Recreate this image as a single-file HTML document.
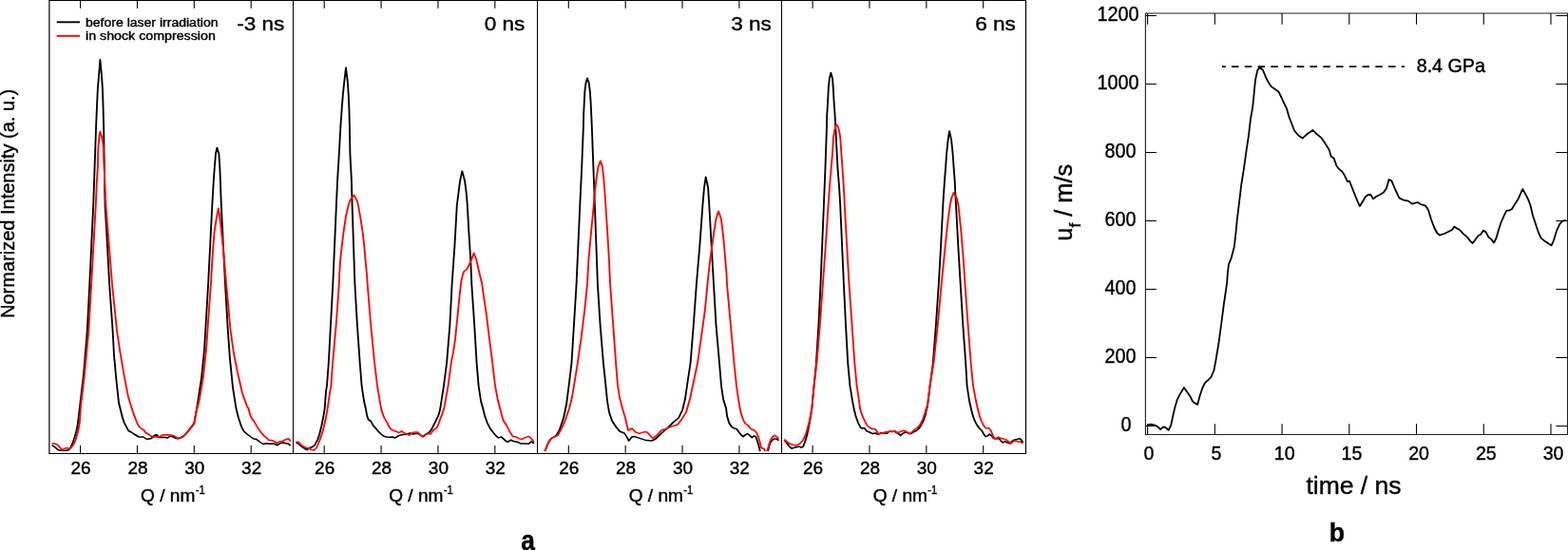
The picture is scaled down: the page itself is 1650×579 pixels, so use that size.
<!DOCTYPE html>
<html lang="en"><head><meta charset="utf-8"><title>Figure</title>
<style>html,body{margin:0;padding:0;background:#fff;}svg{display:block;font-family:"Liberation Sans", sans-serif;}</style></head><body>
<svg width="1650" height="579" viewBox="0 0 1650 579">
<rect x="0" y="0" width="1650" height="579" fill="#fff"/>
<defs><clipPath id="clipA"><rect x="51.9" y="0" width="1027.6" height="474.9"/></clipPath></defs>
<g clip-path="url(#clipA)">
<path transform="scale(1.2,1)" d="M45.42,468.5 L47.92,470.5 L50.83,473.5 L53.33,474.3 L56.33,474.5 L60.08,473.7 L61.75,471.5 L63.83,466.0 L65.50,460.0 L66.75,455.0 L68.00,448.0 L70.00,428.0 L73.33,394.0 L76.50,348.0 L78.58,299.0 L81.83,216.0 L84.25,133.0 L85.17,107.3 L85.75,93.0 L86.75,78.7 L87.83,62.8 L89.08,78.7 L89.92,93.0 L90.33,107.3 L90.92,133.0 L92.08,216.0 L93.17,237.5 L95.92,299.0 L98.83,348.0 L100.00,374.0 L102.00,400.0 L104.17,424.0 L107.50,440.0 L108.92,445.0 L112.67,453.5 L115.17,455.0 L117.67,457.0 L121.83,460.0 L125.58,460.0 L128.92,462.5 L132.75,461.5 L134.75,459.0 L137.25,457.5 L139.42,460.5 L143.58,460.2 L146.92,461.0 L149.42,459.0 L151.92,460.0 L154.42,461.5 L156.50,461.8 L160.25,460.0 L163.58,456.0 L166.92,451.0 L170.25,446.0 L173.33,424.0 L176.67,398.0 L179.17,368.0 L180.17,348.0 L182.58,299.0 L186.08,216.0 L187.33,190.3 L188.17,176.0 L189.17,161.7 L190.33,155.5 L191.92,161.7 L192.75,176.0 L193.25,190.3 L194.00,216.0 L194.67,232.0 L197.50,299.0 L199.83,348.0 L201.67,378.0 L204.17,408.0 L207.08,430.0 L209.17,440.0 L211.67,449.0 L213.75,454.0 L216.67,457.0 L220.00,460.0 L222.50,462.0 L225.00,462.5 L227.50,465.0 L230.83,467.5 L233.33,466.8 L236.67,467.2 L240.00,467.0 L243.33,468.8 L245.83,466.5 L248.33,466.0 L250.83,466.8 L253.00,467.2 L254.67,469.2" fill="none" stroke="#000" stroke-width="1.55" stroke-linejoin="round" stroke-linecap="butt" />
<path transform="scale(1.2,1)" d="M45.42,466.8 L47.92,467.0 L50.42,468.2 L52.50,471.0 L54.67,473.7 L57.17,471.8 L59.25,471.8 L60.92,472.5 L62.58,471.0 L64.67,467.5 L66.33,463.0 L68.00,456.0 L69.25,449.0 L69.83,445.0 L70.83,428.0 L74.17,394.0 L77.75,348.0 L80.08,299.0 L84.00,216.0 L84.92,190.3 L85.75,176.0 L86.00,160.0 L86.33,153.3 L86.75,148.1 L87.17,141.9 L87.83,138.6 L88.67,141.9 L89.58,145.5 L90.25,150.7 L90.67,155.9 L90.83,160.0 L91.33,176.0 L92.83,216.0 L98.33,299.0 L102.50,348.0 L105.00,368.0 L108.33,392.0 L112.50,418.0 L116.67,434.0 L120.17,445.0 L121.83,449.0 L124.33,451.5 L126.00,452.5 L127.67,455.5 L130.17,457.0 L132.25,459.0 L134.75,460.3 L137.25,459.8 L139.83,460.0 L141.92,458.0 L146.08,457.8 L149.42,458.0 L151.92,458.5 L154.00,460.0 L156.08,461.5 L158.58,460.5 L161.08,459.0 L163.58,456.0 L166.08,452.0 L168.58,448.0 L170.25,445.0 L171.67,436.0 L175.00,420.0 L178.33,396.0 L180.83,368.0 L182.00,348.0 L184.92,299.0 L186.17,273.3 L187.00,259.0 L187.92,244.7 L189.75,230.3 L191.50,219.2 L192.92,230.3 L194.25,244.7 L195.50,259.0 L196.67,273.3 L198.42,299.0 L202.17,348.0 L205.00,372.0 L208.33,392.0 L212.50,414.0 L216.67,428.0 L217.92,430.0 L219.17,436.0 L220.83,440.5 L223.33,444.5 L225.83,450.0 L229.17,455.5 L231.67,459.0 L234.17,461.5 L235.83,463.5 L238.33,463.5 L240.83,465.0 L243.00,466.5 L245.00,465.0 L247.50,464.5 L250.00,463.0 L253.00,461.8 L255.00,464.5" fill="none" stroke="#f00" stroke-width="1.55" stroke-linejoin="round" stroke-linecap="butt" />
<path transform="scale(1.2,1)" d="M259.67,466.0 L261.83,467.0 L264.33,470.0 L266.83,472.0 L269.33,473.5 L271.42,471.5 L273.92,470.5 L276.00,468.5 L278.50,463.0 L280.17,457.0 L281.83,449.0 L283.50,439.0 L284.75,430.0 L285.83,412.0 L286.67,406.0 L288.17,382.0 L291.92,299.0 L294.92,216.0 L295.92,190.3 L297.33,161.7 L298.67,133.0 L299.75,114.5 L300.67,100.2 L301.92,85.8 L303.33,71.3 L304.83,85.8 L305.67,100.2 L306.17,114.5 L306.58,133.0 L307.00,161.7 L308.25,190.3 L308.83,216.0 L311.17,299.0 L313.25,342.0 L315.58,382.0 L317.17,406.0 L319.17,422.0 L320.67,430.0 L321.92,438.0 L323.17,442.0 L325.25,443.5 L327.33,448.0 L329.17,450.5 L331.67,454.0 L334.17,457.0 L336.67,459.3 L339.17,460.0 L341.67,460.3 L344.17,459.9 L346.25,461.0 L348.75,459.3 L351.25,457.9 L353.75,457.6 L356.67,456.9 L359.58,455.9 L362.50,456.9 L365.50,456.3 L367.58,456.9 L369.25,458.6 L370.92,459.6 L372.58,458.1 L374.67,456.3 L376.75,454.6 L378.42,452.0 L380.50,447.0 L382.58,442.0 L384.25,438.0 L385.50,433.0 L386.08,430.0 L389.17,406.0 L391.75,382.0 L394.50,342.0 L396.33,299.0 L398.67,259.0 L400.67,216.0 L401.92,204.7 L403.42,190.3 L405.25,180.2 L407.58,190.3 L409.08,204.7 L409.83,216.0 L411.17,244.7 L412.67,273.3 L413.58,299.0 L416.00,342.0 L418.00,382.0 L419.67,406.0 L421.67,422.0 L423.50,430.0 L425.17,438.0 L427.25,445.0 L429.75,451.0 L432.67,455.6 L435.17,459.1 L437.25,460.9 L439.75,459.9 L441.42,461.9 L443.50,464.1 L445.17,465.3 L448.08,463.1 L450.17,464.6 L453.50,465.3 L456.92,467.1 L460.25,466.9 L463.58,467.3 L466.08,464.9 L468.33,467.0" fill="none" stroke="#000" stroke-width="1.55" stroke-linejoin="round" stroke-linecap="butt" />
<path transform="scale(1.2,1)" d="M259.67,465.0 L261.83,465.5 L263.92,468.0 L266.00,470.0 L268.50,471.5 L271.00,472.0 L273.08,473.5 L275.17,474.0 L276.83,472.5 L278.50,469.0 L280.17,464.0 L282.25,457.0 L283.92,450.0 L285.58,441.0 L287.25,430.0 L289.17,414.0 L290.33,406.0 L291.75,382.0 L294.75,342.0 L297.33,299.0 L297.67,287.7 L298.50,273.3 L299.75,259.0 L301.25,244.7 L303.33,227.5 L305.83,215.0 L307.17,210.5 L310.50,205.3 L313.25,211.9 L314.17,216.0 L316.25,230.3 L318.00,244.7 L319.42,259.0 L320.42,273.3 L321.58,287.7 L322.25,299.0 L325.17,342.0 L328.42,382.0 L330.83,406.0 L333.33,424.0 L334.17,430.0 L335.42,435.0 L337.08,440.0 L339.58,445.0 L341.25,449.5 L342.92,452.0 L345.00,453.2 L347.50,454.2 L349.67,455.6 L352.17,453.8 L354.17,455.6 L356.67,456.9 L358.83,458.1 L360.92,456.3 L363.42,454.9 L366.33,455.0 L368.00,457.1 L370.50,459.9 L372.58,457.6 L375.08,456.6 L377.58,456.9 L379.25,454.0 L380.92,451.8 L383.00,450.5 L384.67,446.0 L386.33,440.0 L388.00,435.0 L389.42,430.0 L393.00,406.0 L395.67,382.0 L397.50,370.7 L399.25,356.3 L400.42,342.0 L401.67,327.7 L402.83,313.3 L404.17,299.0 L404.67,294.9 L405.83,289.1 L407.00,285.5 L409.42,283.4 L411.17,279.1 L413.58,273.3 L415.42,266.4 L417.75,273.3 L419.58,283.4 L421.33,292.0 L422.75,299.0 L424.33,313.3 L426.17,327.7 L427.67,342.0 L429.08,356.3 L430.67,370.7 L431.83,382.0 L434.17,406.0 L436.67,422.0 L438.50,430.0 L439.75,436.0 L441.42,443.0 L444.33,448.0 L446.83,454.0 L449.75,459.6 L452.67,460.1 L455.17,461.6 L457.33,462.6 L460.25,460.9 L463.17,459.6 L464.83,460.3 L466.50,462.6 L468.33,465.6" fill="none" stroke="#f00" stroke-width="1.55" stroke-linejoin="round" stroke-linecap="butt" />
<path transform="scale(1.2,1)" d="M477.17,478.0 L478.00,474.4 L480.83,466.0 L483.33,461.6 L487.50,459.0 L490.83,452.0 L494.17,440.0 L496.67,426.0 L498.83,406.0 L501.25,382.0 L505.50,299.0 L508.58,216.0 L510.17,176.0 L511.58,133.0 L511.75,121.7 L512.33,107.3 L512.83,95.9 L513.75,87.3 L515.00,82.2 L516.42,87.3 L517.33,95.9 L518.00,107.3 L518.58,121.7 L519.00,133.0 L520.33,176.0 L521.58,216.0 L524.08,299.0 L526.33,342.0 L529.08,382.0 L531.17,406.0 L532.50,422.0 L534.17,434.0 L536.67,443.0 L540.00,449.0 L543.33,454.0 L547.50,456.0 L549.67,460.0 L551.33,464.0 L554.17,460.0 L556.67,459.6 L561.67,461.6 L566.67,463.6 L571.67,464.0 L575.00,462.0 L579.17,457.0 L585.00,451.0 L590.00,445.0 L595.00,440.0 L598.33,432.0 L600.83,420.0 L602.50,406.0 L605.50,382.0 L608.17,342.0 L610.75,299.0 L613.58,259.0 L616.17,216.0 L617.50,197.5 L618.92,186.3 L620.92,197.5 L621.92,216.0 L623.92,259.0 L625.83,299.0 L627.92,342.0 L630.83,382.0 L632.50,406.0 L634.17,420.0 L636.75,430.0 L637.58,438.0 L639.25,445.0 L641.75,449.5 L644.25,451.2 L645.92,451.5 L648.42,455.6 L650.08,458.1 L651.75,459.6 L653.83,457.6 L655.50,456.6 L657.17,458.1 L659.25,460.6 L660.92,459.1 L662.58,459.6 L663.83,463.1 L665.08,468.1 L666.33,474.1 L667.17,479.0 L669.17,481.0 L671.67,480.0 L673.50,474.5 L674.33,470.0 L675.58,466.0 L676.83,463.6 L678.92,461.9 L681.00,462.1 L682.92,463.6" fill="none" stroke="#000" stroke-width="1.55" stroke-linejoin="round" stroke-linecap="butt" />
<path transform="scale(1.2,1)" d="M477.17,478.0 L478.00,474.4 L480.83,466.0 L483.33,462.0 L485.83,460.0 L489.17,458.4 L492.50,451.0 L495.83,442.0 L499.17,430.0 L501.67,418.0 L503.33,406.0 L506.58,382.0 L509.58,356.3 L512.58,327.7 L515.00,299.0 L516.17,273.3 L518.33,244.7 L520.67,216.0 L521.33,204.7 L522.75,190.3 L524.50,176.0 L526.58,169.2 L528.33,176.0 L529.58,190.3 L530.50,204.7 L531.08,216.0 L532.67,244.7 L534.08,273.3 L535.08,299.0 L537.67,342.0 L540.08,382.0 L541.67,406.0 L543.33,418.0 L545.83,430.0 L548.33,440.0 L550.83,453.0 L554.17,451.0 L557.50,455.0 L560.83,456.4 L565.00,454.6 L567.50,455.0 L572.50,461.6 L575.83,458.4 L580.00,453.0 L585.00,451.0 L590.00,448.4 L594.17,447.0 L597.50,442.0 L601.67,434.0 L605.00,420.0 L607.50,406.0 L611.75,382.0 L614.75,356.3 L618.08,327.7 L620.42,299.0 L621.33,287.7 L622.75,273.3 L624.33,259.0 L626.08,244.7 L627.92,230.3 L630.00,222.3 L632.33,230.3 L633.83,244.7 L635.08,259.0 L636.00,273.3 L637.08,287.7 L637.50,299.0 L640.75,342.0 L643.75,382.0 L645.83,406.0 L647.50,420.0 L648.83,430.0 L650.08,436.0 L651.75,442.0 L653.42,445.8 L655.50,447.2 L657.58,450.5 L659.25,452.0 L661.75,453.2 L663.42,455.6 L665.08,460.1 L666.33,465.1 L667.17,470.1 L668.00,471.9 L669.67,471.9 L670.50,473.6 L671.17,476.5 L672.17,476.5 L672.67,474.6 L673.50,472.1 L674.33,468.1 L675.58,463.6 L677.25,460.1 L679.33,458.4 L681.00,459.6 L682.92,461.9" fill="none" stroke="#f00" stroke-width="1.55" stroke-linejoin="round" stroke-linecap="butt" />
<path transform="scale(1.2,1)" d="M687.67,463.1 L689.75,466.1 L691.83,469.6 L694.33,472.1 L696.83,471.1 L698.92,470.6 L701.00,470.1 L702.67,471.1 L704.33,470.1 L706.00,465.1 L707.67,458.1 L709.42,448.0 L710.67,440.0 L711.92,430.0 L713.83,406.0 L715.75,382.0 L717.83,342.0 L719.58,299.0 L722.42,216.0 L723.75,176.0 L725.00,133.0 L725.17,121.7 L725.92,107.3 L726.50,93.0 L727.33,83.0 L728.58,76.5 L730.08,83.0 L730.67,93.0 L731.33,107.3 L732.17,121.7 L732.67,133.0 L734.50,176.0 L735.92,197.5 L736.83,216.0 L739.92,299.0 L741.67,342.0 L743.50,382.0 L745.33,406.0 L747.50,422.0 L748.75,430.0 L750.42,438.0 L752.50,445.0 L754.58,450.0 L756.25,451.0 L757.92,450.5 L760.00,453.8 L762.50,455.0 L765.42,456.6 L767.50,455.9 L770.00,457.3 L772.58,455.6 L775.08,455.9 L777.58,456.3 L780.08,454.0 L782.58,454.5 L784.67,453.8 L787.58,456.3 L789.67,458.6 L791.75,456.3 L793.83,454.9 L796.33,455.9 L798.83,456.3 L801.33,454.6 L803.42,453.5 L805.50,451.5 L807.58,448.0 L809.75,443.0 L811.42,437.0 L812.67,430.0 L813.33,428.0 L815.50,406.0 L818.17,382.0 L820.75,342.0 L823.17,299.0 L825.08,259.0 L826.92,216.0 L827.50,204.7 L828.33,190.3 L829.25,176.0 L830.08,161.7 L831.33,147.3 L832.50,138.0 L834.25,147.3 L835.50,161.7 L836.33,176.0 L837.25,190.3 L837.83,204.7 L838.33,216.0 L840.25,259.0 L842.25,299.0 L844.42,342.0 L846.83,382.0 L848.00,406.0 L850.00,422.0 L851.50,430.0 L852.75,436.0 L854.42,442.0 L856.50,447.0 L858.58,450.5 L861.08,453.5 L862.75,457.1 L864.42,459.6 L866.08,458.9 L867.75,457.1 L869.42,458.6 L871.08,461.1 L873.58,461.9 L876.08,461.6 L877.67,464.1 L879.33,465.9 L881.42,464.6 L883.50,466.1 L885.58,466.9 L887.25,464.6 L889.42,463.1 L891.92,462.6 L894.00,461.6 L895.67,463.1 L897.08,465.9" fill="none" stroke="#000" stroke-width="1.55" stroke-linejoin="round" stroke-linecap="butt" />
<path transform="scale(1.2,1)" d="M687.67,462.6 L690.17,465.1 L692.67,467.3 L695.17,468.3 L698.08,468.9 L700.17,467.9 L702.25,466.1 L704.33,463.1 L706.00,459.1 L707.67,453.0 L709.42,445.0 L710.67,438.0 L711.92,430.0 L713.83,406.0 L716.25,382.0 L719.00,342.0 L721.58,299.0 L724.00,259.0 L726.33,216.0 L727.00,204.7 L727.92,190.3 L728.92,176.0 L730.00,161.7 L730.75,145.0 L731.33,140.9 L731.92,136.8 L732.83,132.6 L733.58,131.2 L734.58,132.6 L735.42,135.7 L736.08,139.4 L736.67,143.0 L737.00,147.3 L737.83,161.7 L738.67,176.0 L739.50,190.3 L740.25,204.7 L740.67,216.0 L742.67,259.0 L744.58,299.0 L747.08,342.0 L749.42,382.0 L751.33,406.0 L753.33,422.0 L754.17,430.0 L755.42,435.0 L757.08,440.0 L758.75,444.0 L760.42,448.0 L762.50,450.0 L765.00,451.5 L767.17,451.5 L768.83,454.0 L770.50,456.9 L773.00,456.3 L775.92,455.0 L778.83,454.5 L781.33,454.3 L783.83,453.9 L785.92,455.6 L788.42,455.0 L790.50,453.9 L792.58,453.2 L795.08,454.5 L798.00,456.9 L800.08,454.5 L802.17,452.0 L804.67,450.0 L807.25,446.5 L809.33,441.0 L811.00,435.0 L812.25,430.0 L813.33,426.0 L815.50,406.0 L818.75,382.0 L822.33,342.0 L825.58,299.0 L826.50,287.7 L827.75,273.3 L828.92,259.0 L830.08,244.7 L831.50,230.3 L833.08,216.0 L834.25,209.0 L836.33,202.8 L839.08,209.0 L840.42,216.0 L841.67,230.3 L842.92,244.7 L843.83,259.0 L844.83,273.3 L845.67,287.7 L846.25,299.0 L848.83,342.0 L851.33,382.0 L853.33,406.0 L855.83,422.0 L857.33,430.0 L858.58,436.0 L860.25,442.0 L862.33,447.5 L864.42,450.8 L867.33,450.8 L869.00,453.5 L870.67,458.6 L872.00,461.9 L873.92,461.3 L875.58,460.1 L877.67,461.6 L880.17,462.1 L882.67,463.1 L884.75,465.1 L886.67,466.9 L888.58,464.6 L890.67,464.1 L892.75,465.1 L894.83,464.9 L896.50,467.1" fill="none" stroke="#f00" stroke-width="1.55" stroke-linejoin="round" stroke-linecap="butt" />
</g>
<line x1="51.3" y1="0.5" x2="1080.05" y2="0.5" stroke="#000" stroke-width="1" />
<line x1="51.3" y1="477.5" x2="1080.05" y2="477.5" stroke="#000" stroke-width="1" />
<line x1="51.9" y1="0.5" x2="51.9" y2="477.5" stroke="#000" stroke-width="1.2" />
<line x1="1079.45" y1="0.5" x2="1079.45" y2="477.5" stroke="#000" stroke-width="1.2" />
<line x1="308.5" y1="0.5" x2="308.5" y2="477.5" stroke="#000" stroke-width="1.05" />
<line x1="565.5" y1="0.5" x2="565.5" y2="477.5" stroke="#000" stroke-width="1.05" />
<line x1="822.5" y1="0.5" x2="822.5" y2="477.5" stroke="#000" stroke-width="1.05" />
<line x1="84.6" y1="0.5" x2="84.6" y2="8.8" stroke="#000" stroke-width="1.1" />
<line x1="84.6" y1="469" x2="84.6" y2="478.3" stroke="#000" stroke-width="1.1" />
<text transform="translate(85.05,499) scale(1.06,1)" font-size="17.9" text-anchor="middle" font-weight="normal" fill="#000" stroke="#000" stroke-width="0.4" stroke-linejoin="round">26</text>
<line x1="144.47" y1="0.5" x2="144.47" y2="8.8" stroke="#000" stroke-width="1.1" />
<line x1="144.47" y1="469" x2="144.47" y2="478.3" stroke="#000" stroke-width="1.1" />
<text transform="translate(144.92,499) scale(1.06,1)" font-size="17.9" text-anchor="middle" font-weight="normal" fill="#000" stroke="#000" stroke-width="0.4" stroke-linejoin="round">28</text>
<line x1="204.33999999999997" y1="0.5" x2="204.33999999999997" y2="8.8" stroke="#000" stroke-width="1.1" />
<line x1="204.33999999999997" y1="469" x2="204.33999999999997" y2="478.3" stroke="#000" stroke-width="1.1" />
<text transform="translate(204.78999999999996,499) scale(1.06,1)" font-size="17.9" text-anchor="middle" font-weight="normal" fill="#000" stroke="#000" stroke-width="0.4" stroke-linejoin="round">30</text>
<line x1="264.21" y1="0.5" x2="264.21" y2="8.8" stroke="#000" stroke-width="1.1" />
<line x1="264.21" y1="469" x2="264.21" y2="478.3" stroke="#000" stroke-width="1.1" />
<text transform="translate(264.65999999999997,499) scale(1.06,1)" font-size="17.9" text-anchor="middle" font-weight="normal" fill="#000" stroke="#000" stroke-width="0.4" stroke-linejoin="round">32</text>
<text transform="translate(148.1,528) scale(1.067,1)" font-size="17.9" text-anchor="start" font-weight="normal" fill="#000" stroke="#000" stroke-width="0.4" stroke-linejoin="round">Q / nm</text>
<text transform="translate(205.7,520) scale(0.86,1)" font-size="13.0" text-anchor="start" font-weight="normal" fill="#000" stroke="#000" stroke-width="0.4" stroke-linejoin="round">-1</text>
<line x1="341.2" y1="0.5" x2="341.2" y2="8.8" stroke="#000" stroke-width="1.1" />
<line x1="341.2" y1="469" x2="341.2" y2="478.3" stroke="#000" stroke-width="1.1" />
<text transform="translate(341.65,499) scale(1.06,1)" font-size="17.9" text-anchor="middle" font-weight="normal" fill="#000" stroke="#000" stroke-width="0.4" stroke-linejoin="round">26</text>
<line x1="401.07" y1="0.5" x2="401.07" y2="8.8" stroke="#000" stroke-width="1.1" />
<line x1="401.07" y1="469" x2="401.07" y2="478.3" stroke="#000" stroke-width="1.1" />
<text transform="translate(401.52,499) scale(1.06,1)" font-size="17.9" text-anchor="middle" font-weight="normal" fill="#000" stroke="#000" stroke-width="0.4" stroke-linejoin="round">28</text>
<line x1="460.94" y1="0.5" x2="460.94" y2="8.8" stroke="#000" stroke-width="1.1" />
<line x1="460.94" y1="469" x2="460.94" y2="478.3" stroke="#000" stroke-width="1.1" />
<text transform="translate(461.39,499) scale(1.06,1)" font-size="17.9" text-anchor="middle" font-weight="normal" fill="#000" stroke="#000" stroke-width="0.4" stroke-linejoin="round">30</text>
<line x1="520.81" y1="0.5" x2="520.81" y2="8.8" stroke="#000" stroke-width="1.1" />
<line x1="520.81" y1="469" x2="520.81" y2="478.3" stroke="#000" stroke-width="1.1" />
<text transform="translate(521.26,499) scale(1.06,1)" font-size="17.9" text-anchor="middle" font-weight="normal" fill="#000" stroke="#000" stroke-width="0.4" stroke-linejoin="round">32</text>
<text transform="translate(409.2,528) scale(1.067,1)" font-size="17.9" text-anchor="start" font-weight="normal" fill="#000" stroke="#000" stroke-width="0.4" stroke-linejoin="round">Q / nm</text>
<text transform="translate(466.8,520) scale(0.86,1)" font-size="13.0" text-anchor="start" font-weight="normal" fill="#000" stroke="#000" stroke-width="0.4" stroke-linejoin="round">-1</text>
<line x1="598.3" y1="0.5" x2="598.3" y2="8.8" stroke="#000" stroke-width="1.1" />
<line x1="598.3" y1="469" x2="598.3" y2="478.3" stroke="#000" stroke-width="1.1" />
<text transform="translate(598.75,499) scale(1.06,1)" font-size="17.9" text-anchor="middle" font-weight="normal" fill="#000" stroke="#000" stroke-width="0.4" stroke-linejoin="round">26</text>
<line x1="658.17" y1="0.5" x2="658.17" y2="8.8" stroke="#000" stroke-width="1.1" />
<line x1="658.17" y1="469" x2="658.17" y2="478.3" stroke="#000" stroke-width="1.1" />
<text transform="translate(658.62,499) scale(1.06,1)" font-size="17.9" text-anchor="middle" font-weight="normal" fill="#000" stroke="#000" stroke-width="0.4" stroke-linejoin="round">28</text>
<line x1="718.04" y1="0.5" x2="718.04" y2="8.8" stroke="#000" stroke-width="1.1" />
<line x1="718.04" y1="469" x2="718.04" y2="478.3" stroke="#000" stroke-width="1.1" />
<text transform="translate(718.49,499) scale(1.06,1)" font-size="17.9" text-anchor="middle" font-weight="normal" fill="#000" stroke="#000" stroke-width="0.4" stroke-linejoin="round">30</text>
<line x1="777.91" y1="0.5" x2="777.91" y2="8.8" stroke="#000" stroke-width="1.1" />
<line x1="777.91" y1="469" x2="777.91" y2="478.3" stroke="#000" stroke-width="1.1" />
<text transform="translate(778.36,499) scale(1.06,1)" font-size="17.9" text-anchor="middle" font-weight="normal" fill="#000" stroke="#000" stroke-width="0.4" stroke-linejoin="round">32</text>
<text transform="translate(661.7,528) scale(1.067,1)" font-size="17.9" text-anchor="start" font-weight="normal" fill="#000" stroke="#000" stroke-width="0.4" stroke-linejoin="round">Q / nm</text>
<text transform="translate(719.3000000000001,520) scale(0.86,1)" font-size="13.0" text-anchor="start" font-weight="normal" fill="#000" stroke="#000" stroke-width="0.4" stroke-linejoin="round">-1</text>
<line x1="855.1" y1="0.5" x2="855.1" y2="8.8" stroke="#000" stroke-width="1.1" />
<line x1="855.1" y1="469" x2="855.1" y2="478.3" stroke="#000" stroke-width="1.1" />
<text transform="translate(855.5500000000001,499) scale(1.06,1)" font-size="17.9" text-anchor="middle" font-weight="normal" fill="#000" stroke="#000" stroke-width="0.4" stroke-linejoin="round">26</text>
<line x1="914.97" y1="0.5" x2="914.97" y2="8.8" stroke="#000" stroke-width="1.1" />
<line x1="914.97" y1="469" x2="914.97" y2="478.3" stroke="#000" stroke-width="1.1" />
<text transform="translate(915.4200000000001,499) scale(1.06,1)" font-size="17.9" text-anchor="middle" font-weight="normal" fill="#000" stroke="#000" stroke-width="0.4" stroke-linejoin="round">28</text>
<line x1="974.84" y1="0.5" x2="974.84" y2="8.8" stroke="#000" stroke-width="1.1" />
<line x1="974.84" y1="469" x2="974.84" y2="478.3" stroke="#000" stroke-width="1.1" />
<text transform="translate(975.2900000000001,499) scale(1.06,1)" font-size="17.9" text-anchor="middle" font-weight="normal" fill="#000" stroke="#000" stroke-width="0.4" stroke-linejoin="round">30</text>
<line x1="1034.71" y1="0.5" x2="1034.71" y2="8.8" stroke="#000" stroke-width="1.1" />
<line x1="1034.71" y1="469" x2="1034.71" y2="478.3" stroke="#000" stroke-width="1.1" />
<text transform="translate(1035.16,499) scale(1.06,1)" font-size="17.9" text-anchor="middle" font-weight="normal" fill="#000" stroke="#000" stroke-width="0.4" stroke-linejoin="round">32</text>
<text transform="translate(918.7,528) scale(1.067,1)" font-size="17.9" text-anchor="start" font-weight="normal" fill="#000" stroke="#000" stroke-width="0.4" stroke-linejoin="round">Q / nm</text>
<text transform="translate(976.3000000000001,520) scale(0.86,1)" font-size="13.0" text-anchor="start" font-weight="normal" fill="#000" stroke="#000" stroke-width="0.4" stroke-linejoin="round">-1</text>
<text transform="translate(299.4,32.0) scale(1.085,1)" font-size="20.8" text-anchor="end" font-weight="normal" fill="#000" stroke="#000" stroke-width="0.4" stroke-linejoin="round">-3 ns</text>
<text transform="translate(552.4,32.0) scale(1.085,1)" font-size="20.8" text-anchor="end" font-weight="normal" fill="#000" stroke="#000" stroke-width="0.4" stroke-linejoin="round">0 ns</text>
<text transform="translate(811.8,32.0) scale(1.085,1)" font-size="20.8" text-anchor="end" font-weight="normal" fill="#000" stroke="#000" stroke-width="0.4" stroke-linejoin="round">3 ns</text>
<text transform="translate(1068.8,32.0) scale(1.085,1)" font-size="20.8" text-anchor="end" font-weight="normal" fill="#000" stroke="#000" stroke-width="0.4" stroke-linejoin="round">6 ns</text>
<line x1="59.7" y1="23.3" x2="84" y2="23.3" stroke="#000" stroke-width="1.9" />
<line x1="59.7" y1="37.8" x2="84" y2="37.8" stroke="#f00" stroke-width="1.9" />
<text transform="translate(90,28) scale(1.071,1)" font-size="13.1" text-anchor="start" font-weight="normal" fill="#000" stroke="#000" stroke-width="0.4" stroke-linejoin="round">before laser irradiation</text>
<text transform="translate(90,42) scale(1.087,1)" font-size="13.1" text-anchor="start" font-weight="normal" fill="#000" stroke="#000" stroke-width="0.4" stroke-linejoin="round">in shock compression</text>
<text transform="translate(15.0,335) rotate(-90) scale(0.972,1)" font-size="20.6" text-anchor="start" font-weight="normal" fill="#000" stroke="#000" stroke-width="0.4" stroke-linejoin="round">Normarized Intensity (a. u.)</text>
<text transform="translate(555.6,579) scale(0.9,1)" font-size="29.2" text-anchor="middle" font-weight="bold" fill="#000" stroke="#000" stroke-width="0.4" stroke-linejoin="round">a</text>
<path transform="scale(1.0,1)" d="M1207.50,447.7 L1210.80,446.7 L1214.30,447.4 L1217.90,448.8 L1221.20,452.1 L1223.70,449.5 L1226.50,450.0 L1229.70,452.8 L1232.30,447.4 L1234.40,437.3 L1236.60,428.0 L1238.70,420.9 L1241.60,415.1 L1245.90,408.0 L1249.50,413.0 L1252.30,417.3 L1255.20,422.7 L1257.30,424.4 L1260.20,425.9 L1262.40,417.3 L1265.20,408.7 L1268.10,402.9 L1271.70,399.8 L1274.60,396.5 L1277.40,390.0 L1279.30,380.0 L1282.40,361.5 L1285.30,340.0 L1287.70,321.4 L1290.00,305.6 L1291.20,297.0 L1291.80,288.6 L1292.90,278.5 L1295.80,271.3 L1298.90,259.2 L1300.40,245.5 L1301.80,231.2 L1303.20,219.7 L1303.90,214.0 L1306.10,195.5 L1309.00,176.9 L1311.80,156.8 L1314.00,142.5 L1315.30,131.0 L1316.40,122.6 L1318.00,114.0 L1319.00,105.3 L1320.00,93.9 L1321.10,83.8 L1323.30,73.8 L1325.90,70.7 L1329.00,73.8 L1331.90,81.0 L1334.80,86.7 L1337.60,91.0 L1341.90,93.9 L1345.50,96.7 L1348.40,102.5 L1351.30,108.9 L1354.10,114.7 L1356.30,122.6 L1359.60,131.0 L1362.00,137.5 L1366.30,142.5 L1370.60,145.6 L1375.60,141.0 L1381.60,137.0 L1385.00,140.7 L1390.00,144.6 L1393.50,149.6 L1398.60,157.5 L1400.70,164.7 L1403.60,166.6 L1406.50,174.7 L1409.30,178.3 L1412.20,180.5 L1415.00,184.8 L1417.90,191.2 L1420.00,190.5 L1423.70,199.8 L1426.50,207.0 L1429.40,214.0 L1431.00,217.0 L1434.00,212.0 L1437.00,207.0 L1439.60,205.0 L1442.40,205.0 L1445.00,209.4 L1448.00,207.0 L1452.00,205.0 L1456.00,202.6 L1459.00,198.0 L1461.60,189.0 L1464.40,190.4 L1468.00,199.0 L1472.40,208.4 L1477.00,210.6 L1482.00,211.6 L1486.00,214.6 L1491.60,213.0 L1495.00,215.0 L1500.00,216.6 L1503.00,221.0 L1506.00,231.0 L1509.00,239.0 L1512.00,245.0 L1515.00,247.6 L1520.00,246.0 L1524.00,244.0 L1528.00,242.0 L1530.40,238.6 L1533.00,240.4 L1536.00,242.0 L1540.00,246.4 L1544.00,249.6 L1547.00,253.6 L1549.60,256.0 L1552.00,253.0 L1555.60,248.0 L1558.00,247.0 L1561.00,242.6 L1563.60,244.4 L1566.40,249.6 L1569.00,251.6 L1572.00,255.6 L1574.40,251.0 L1577.00,242.0 L1579.60,234.0 L1582.40,227.6 L1585.40,221.6 L1588.00,221.6 L1591.00,220.0 L1594.00,215.0 L1597.00,210.6 L1599.60,205.0 L1602.20,199.0 L1605.00,204.0 L1608.00,209.6 L1610.40,216.0 L1613.00,227.0 L1616.00,236.0 L1619.00,245.0 L1621.60,250.6 L1625.00,253.4 L1629.00,256.0 L1632.60,258.4 L1635.00,253.0 L1638.00,243.0 L1641.00,236.4 L1644.00,232.6 L1648.00,232.0" fill="none" stroke="#000" stroke-width="1.8" stroke-linejoin="round" stroke-linecap="butt" />
<line x1="1286" y1="70.0" x2="1478" y2="70.0" stroke="#000" stroke-width="1.75" stroke-dasharray="7.5 6.25" stroke-dashoffset="3.7"/>
<line x1="1204.9" y1="14.0" x2="1650.0" y2="14.0" stroke="#222" stroke-width="1.1" />
<line x1="1204.9" y1="457.5" x2="1650.0" y2="457.5" stroke="#222" stroke-width="1.05" />
<line x1="1205.4" y1="14.0" x2="1205.4" y2="457.5" stroke="#222" stroke-width="1.15" />
<line x1="1649.5" y1="14.0" x2="1649.5" y2="457.5" stroke="#222" stroke-width="1.1" />
<line x1="1207.6" y1="14.0" x2="1207.6" y2="25.7" stroke="#000" stroke-width="1.1" />
<line x1="1207.6" y1="446.2" x2="1207.6" y2="458.1" stroke="#000" stroke-width="1.1" />
<text transform="translate(1209.0,484) scale(0.985,1)" font-size="19.9" text-anchor="middle" font-weight="normal" fill="#000" stroke="#000" stroke-width="0.4" stroke-linejoin="round">0</text>
<line x1="1278.33" y1="14.0" x2="1278.33" y2="25.7" stroke="#000" stroke-width="1.1" />
<line x1="1278.33" y1="446.2" x2="1278.33" y2="458.1" stroke="#000" stroke-width="1.1" />
<text transform="translate(1279.9299999999998,484) scale(0.985,1)" font-size="19.9" text-anchor="middle" font-weight="normal" fill="#000" stroke="#000" stroke-width="0.4" stroke-linejoin="round">5</text>
<line x1="1349.06" y1="14.0" x2="1349.06" y2="25.7" stroke="#000" stroke-width="1.1" />
<line x1="1349.06" y1="446.2" x2="1349.06" y2="458.1" stroke="#000" stroke-width="1.1" />
<text transform="translate(1351.6599999999999,484) scale(0.985,1)" font-size="19.9" text-anchor="middle" font-weight="normal" fill="#000" stroke="#000" stroke-width="0.4" stroke-linejoin="round">10</text>
<line x1="1419.79" y1="14.0" x2="1419.79" y2="25.7" stroke="#000" stroke-width="1.1" />
<line x1="1419.79" y1="446.2" x2="1419.79" y2="458.1" stroke="#000" stroke-width="1.1" />
<text transform="translate(1422.3899999999999,484) scale(0.985,1)" font-size="19.9" text-anchor="middle" font-weight="normal" fill="#000" stroke="#000" stroke-width="0.4" stroke-linejoin="round">15</text>
<line x1="1490.52" y1="14.0" x2="1490.52" y2="25.7" stroke="#000" stroke-width="1.1" />
<line x1="1490.52" y1="446.2" x2="1490.52" y2="458.1" stroke="#000" stroke-width="1.1" />
<text transform="translate(1493.12,484) scale(0.985,1)" font-size="19.9" text-anchor="middle" font-weight="normal" fill="#000" stroke="#000" stroke-width="0.4" stroke-linejoin="round">20</text>
<line x1="1561.25" y1="14.0" x2="1561.25" y2="25.7" stroke="#000" stroke-width="1.1" />
<line x1="1561.25" y1="446.2" x2="1561.25" y2="458.1" stroke="#000" stroke-width="1.1" />
<text transform="translate(1563.85,484) scale(0.985,1)" font-size="19.9" text-anchor="middle" font-weight="normal" fill="#000" stroke="#000" stroke-width="0.4" stroke-linejoin="round">25</text>
<line x1="1631.98" y1="14.0" x2="1631.98" y2="25.7" stroke="#000" stroke-width="1.1" />
<line x1="1631.98" y1="446.2" x2="1631.98" y2="458.1" stroke="#000" stroke-width="1.1" />
<text transform="translate(1634.58,484) scale(0.985,1)" font-size="19.9" text-anchor="middle" font-weight="normal" fill="#000" stroke="#000" stroke-width="0.4" stroke-linejoin="round">30</text>
<line x1="1205.4" y1="448.5" x2="1217" y2="448.5" stroke="#000" stroke-width="1.0" />
<line x1="1637.3" y1="448.5" x2="1649.5" y2="448.5" stroke="#000" stroke-width="1.0" />
<text transform="translate(1190.6,454.0) scale(0.93,1)" font-size="21.3" text-anchor="end" font-weight="normal" fill="#000" stroke="#000" stroke-width="0.4" stroke-linejoin="round">0</text>
<line x1="1205.4" y1="376.5" x2="1217" y2="376.5" stroke="#000" stroke-width="1.0" />
<line x1="1637.3" y1="376.5" x2="1649.5" y2="376.5" stroke="#000" stroke-width="1.0" />
<text transform="translate(1195.6,382.0) scale(0.93,1)" font-size="21.3" text-anchor="end" font-weight="normal" fill="#000" stroke="#000" stroke-width="0.4" stroke-linejoin="round">200</text>
<line x1="1205.4" y1="304.5" x2="1217" y2="304.5" stroke="#000" stroke-width="1.0" />
<line x1="1637.3" y1="304.5" x2="1649.5" y2="304.5" stroke="#000" stroke-width="1.0" />
<text transform="translate(1195.6,310.0) scale(0.93,1)" font-size="21.3" text-anchor="end" font-weight="normal" fill="#000" stroke="#000" stroke-width="0.4" stroke-linejoin="round">400</text>
<line x1="1205.4" y1="232.5" x2="1217" y2="232.5" stroke="#000" stroke-width="1.0" />
<line x1="1637.3" y1="232.5" x2="1649.5" y2="232.5" stroke="#000" stroke-width="1.0" />
<text transform="translate(1195.6,238.0) scale(0.93,1)" font-size="21.3" text-anchor="end" font-weight="normal" fill="#000" stroke="#000" stroke-width="0.4" stroke-linejoin="round">600</text>
<line x1="1205.4" y1="160.5" x2="1217" y2="160.5" stroke="#000" stroke-width="1.0" />
<line x1="1637.3" y1="160.5" x2="1649.5" y2="160.5" stroke="#000" stroke-width="1.0" />
<text transform="translate(1195.6,166.0) scale(0.93,1)" font-size="21.3" text-anchor="end" font-weight="normal" fill="#000" stroke="#000" stroke-width="0.4" stroke-linejoin="round">800</text>
<line x1="1205.4" y1="88.5" x2="1217" y2="88.5" stroke="#000" stroke-width="1.0" />
<line x1="1637.3" y1="88.5" x2="1649.5" y2="88.5" stroke="#000" stroke-width="1.0" />
<text transform="translate(1198.5,94.0) scale(0.93,1)" font-size="21.3" text-anchor="end" font-weight="normal" fill="#000" stroke="#000" stroke-width="0.4" stroke-linejoin="round">1000</text>
<line x1="1205.4" y1="16.5" x2="1217" y2="16.5" stroke="#000" stroke-width="1.0" />
<line x1="1637.3" y1="16.5" x2="1649.5" y2="16.5" stroke="#000" stroke-width="1.0" />
<text transform="translate(1198.5,22.0) scale(0.93,1)" font-size="21.3" text-anchor="end" font-weight="normal" fill="#000" stroke="#000" stroke-width="0.4" stroke-linejoin="round">1200</text>
<text transform="translate(1490.7,76) scale(1.015,1)" font-size="19.4" text-anchor="start" font-weight="normal" fill="#000" stroke="#000" stroke-width="0.4" stroke-linejoin="round">8.4 GPa</text>
<text transform="translate(1374.4,520)" font-size="26.5" text-anchor="start" font-weight="normal" fill="#000" stroke="#000" stroke-width="0.4" stroke-linejoin="round">time / ns</text>
<text transform="translate(1128.2,253.7) rotate(-90)" font-size="25.4" text-anchor="start" font-weight="normal" fill="#000" stroke="#000" stroke-width="0.4" stroke-linejoin="round">u<tspan font-size="17" dy="8.6">f</tspan><tspan dy="-8.6"> / m/s</tspan></text>
<text transform="translate(1407,570) scale(0.97,1)" font-size="27.5" text-anchor="middle" font-weight="bold" fill="#000" stroke="#000" stroke-width="0.4" stroke-linejoin="round">b</text>
</svg></body></html>
